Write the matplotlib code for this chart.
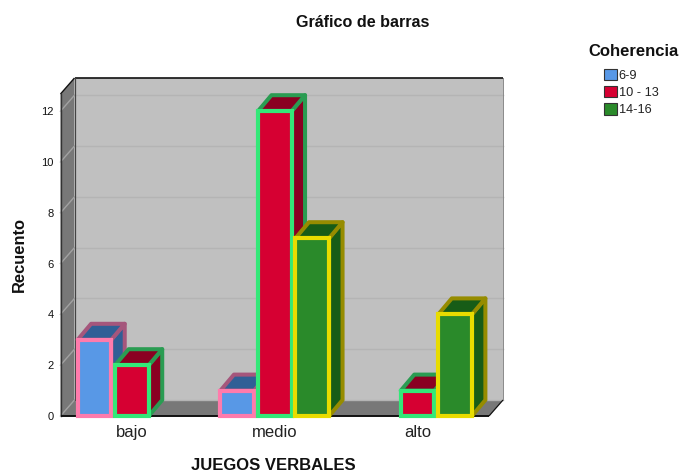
import matplotlib
matplotlib.use("Agg")
import matplotlib.pyplot as plt
from matplotlib.patches import Patch, Polygon

plt.rcParams['font.family'] = ['Liberation Sans', 'DejaVu Sans']

categories = ["bajo", "medio", "alto"]
series_names = ["6-9", "10 - 13", "14-16"]
counts_6_9 = [3, 1, 0]
counts_10_13 = [2, 12, 1]
counts_14_16 = [0, 7, 4]
series_values = [counts_6_9, counts_10_13, counts_14_16]
y_ticks = [0, 2, 4, 6, 8, 10, 12]

front_colors = ["#5898E6", "#D60032", "#2A8A2A"]
side_colors = ["#305F96", "#8A0022", "#175C17"]
edge_colors = ["#FF7BAC", "#33E878", "#E8DC00"]
side_edge_colors = ["#A5567C", "#2A9C52", "#968C00"]

W, H = 680, 472
fig = plt.figure(figsize=(W / 100, H / 100), dpi=100, facecolor="white")
left, right, bottom, top = 60.5, 489, 416, 94
ax = fig.add_axes([left / W, 1 - bottom / H, (right - left) / W, (bottom - top) / H])
ax.set_xlim(-0.5, 2.5)
unit = 25.4
ymax = (bottom - top) / unit
ax.set_ylim(0, ymax)
for s in ax.spines.values():
    s.set_visible(False)
ax.patch.set_visible(False)

px = (right - left) / 3
wall_dx, wall_dy = 14 / px, 16 / unit
bar_dx, bar_dy = 13.5 / px, 16 / unit
x0, x1 = -0.5, 2.5


def poly(points, fc, ec="none", lw=0.0, z=1, join="miter"):
    ax.add_patch(Polygon(points, closed=True, facecolor=fc, edgecolor=ec, linewidth=lw,
                         zorder=z, clip_on=False, joinstyle=join))


# walls
poly([(x0 + wall_dx, wall_dy), (x1 + wall_dx, wall_dy), (x1 + wall_dx, ymax + wall_dy), (x0 + wall_dx, ymax + wall_dy)], "#C0C0C0")
poly([(x0, 0), (x0 + wall_dx, wall_dy), (x0 + wall_dx, ymax + wall_dy), (x0, ymax)], "#787878")
poly([(x0, 0), (x1, 0), (x1 + wall_dx, wall_dy), (x0 + wall_dx, wall_dy)], "#787878")

for t in y_ticks:
    ax.plot([x0 + wall_dx, x1 + wall_dx], [t + wall_dy, t + wall_dy], color="#B4B4B4", lw=1.0, zorder=1.5, clip_on=False)
    ax.plot([x0, x0 + wall_dx], [t, t + wall_dy], color="#A2A2A2", lw=1.0, zorder=1.5, clip_on=False)

k = dict(color="#111111", zorder=1.6, clip_on=False, solid_capstyle="butt")
ax.plot([x0 + wall_dx, x1 + wall_dx], [ymax + wall_dy] * 2, lw=1.2, **k)
ax.plot([x0 + wall_dx, x0 + wall_dx], [wall_dy, ymax + wall_dy], color="#444444", lw=0.9, zorder=1.6, clip_on=False)
ax.plot([x0, x0 + wall_dx], [ymax, ymax + wall_dy], lw=1.0, **k)
ax.plot([x0, x0], [0, ymax], color="#333333", lw=1.0, zorder=1.6, clip_on=False)
ax.plot([x0, x1], [0, 0], lw=1.4, **k)
ax.plot([x1, x1 + wall_dx], [0, wall_dy], lw=0.9, **k)
ax.plot([x1 + wall_dx, x1 + wall_dx], [wall_dy, ymax + wall_dy], color="#8A8A8A", lw=0.7, zorder=1.6, clip_on=False)

# bars
step = 37.5 / px
bw = 33.6 / px
z = 2
for ci in range(len(categories)):
    for si, vals in enumerate(series_values):
        v = vals[ci]
        if v == 0:
            continue
        l = ci + (si - 1) * step - bw / 2
        r = l + bw
        poly([(r, 0), (r + bar_dx, bar_dy), (r + bar_dx, v + bar_dy), (r, v)], side_colors[si], side_edge_colors[si], 2.9, z, "round")
        poly([(l, v), (r, v), (r + bar_dx, v + bar_dy), (l + bar_dx, v + bar_dy)], side_colors[si], side_edge_colors[si], 2.9, z, "round")
        poly([(l, 0), (r, 0), (r, v), (l, v)], front_colors[si], edge_colors[si], 3.0, z + 0.5)
        z += 1

ax.set_xticks(range(len(categories)), categories, fontsize=12, color="#222222")
ax.set_yticks(y_ticks, [str(t) for t in y_ticks], fontsize=8, color="#111111")
ax.tick_params(axis="both", length=0)
ax.tick_params(axis="x", pad=6.5)
ax.tick_params(axis="y", pad=5)

fig.text(363 / W, 1 - 22.5 / H, "Gráfico de barras", ha="center", va="center", fontsize=11.6, fontweight="bold", color="#111111")
fig.text(273.5 / W, 1 - 465.5 / H, "JUEGOS VERBALES", ha="center", va="center", fontsize=12, fontweight="bold", color="#111111")
fig.text(19 / W, 1 - 255 / H, "Recuento", ha="center", va="center", rotation=90, fontsize=11.9, fontweight="bold", color="#111111")
fig.text(588 / W, 1 - 51 / H, "Coherencia", ha="left", va="center", fontsize=12, fontweight="bold", color="#111111")

handles = [Patch(facecolor=c, edgecolor="#333333", linewidth=0.8) for c in front_colors]
fig.legend(handles, series_names, loc="upper left", bbox_to_anchor=(604 / W, 1 - 68.5 / H), borderaxespad=0,
           borderpad=0, frameon=False, fontsize=9.2, handlelength=1.03, handleheight=1.03, handletextpad=0.12,
           labelspacing=0.32, labelcolor="#222222")

fig.savefig("out.png", dpi=100)
